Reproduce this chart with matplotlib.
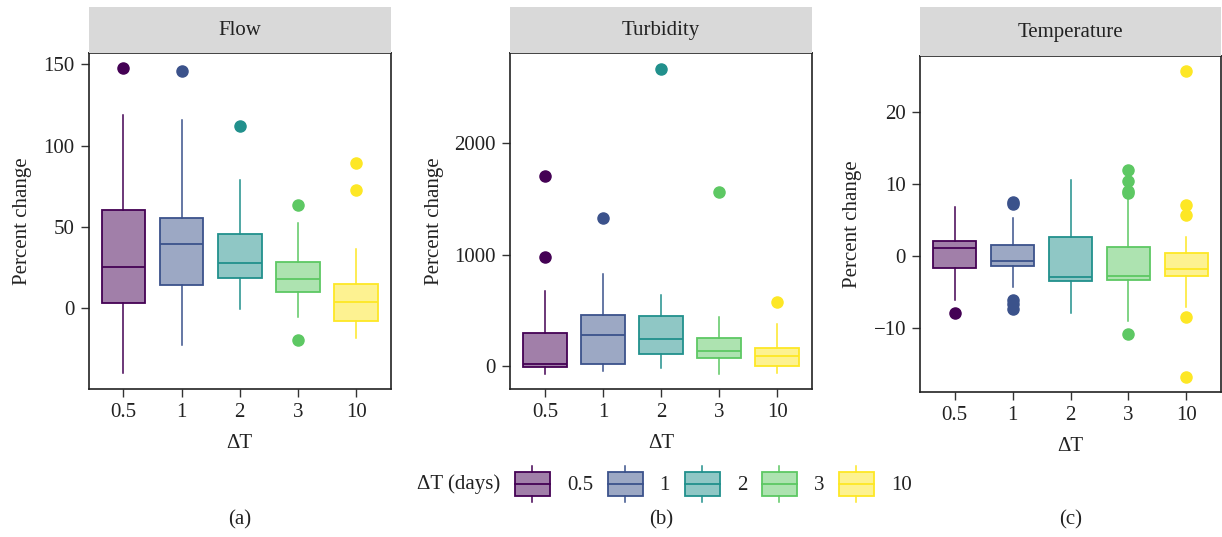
import numpy as np
import matplotlib
matplotlib.use("Agg")
import matplotlib.pyplot as plt
from matplotlib.patches import Patch, Rectangle
from matplotlib.lines import Line2D
from matplotlib.legend_handler import HandlerBase

plt.rcParams["font.family"] = ["Liberation Serif", "DejaVu Serif"]
plt.rcParams["font.size"] = 15

# ── Data ─────────────────────────────────────────────────────
dt_labels = ["0.5", "1", "2", "3", "10"]
colors = ["#440154", "#3B528B", "#21908C", "#5DC863", "#FDE725"]

# Flow: whislo, q1, med, q3, whishi, fliers
flow_whislo = [-40, -22.8, -1, -5.5, -18.5]
flow_q1 = [3, 14.2, 18.5, 10, -8]
flow_med = [25.3, 39.5, 27.8, 18, 3.7]
flow_q3 = [60, 55.5, 45.7, 28.4, 14.8]
flow_whishi = [119, 116, 79, 52.5, 36.4]
flow_fliers = [[147.5], [146], [112], [63.6, -19.7], [89.5, 72.8]]

turb_whislo = [-68, -45, -18, -68, -63]
turb_q1 = [-12, 15, 105, 69, 3]
turb_med = [21, 281, 242, 135, 87]
turb_q3 = [299, 457, 448, 251, 159]
turb_whishi = [670, 822, 640, 440, 380]
turb_fliers = [[1701, 978], [1327], [2664], [1561], [574]]

temp_whislo = [-6.1, -4.26, -7.96, -8.98, -7.13]
temp_q1 = [-1.71, -1.34, -3.47, -3.33, -2.78]
temp_med = [1.06, -0.69, -2.96, -2.73, -1.85]
temp_q3 = [2.13, 1.48, 2.69, 1.3, 0.46]
temp_whishi = [6.76, 5.23, 10.56, 8.0, 2.6]
temp_fliers = [[-7.96], [7.55, 7.2, -6.1, -6.6, -7.4], [],
               [11.94, 10.46, 9.07, 8.8, -10.83],
               [25.65, 7.08, 5.69, -8.52, -16.76]]

panels = [
    ("Flow", flow_whislo, flow_q1, flow_med, flow_q3, flow_whishi, flow_fliers,
     (-50, 157), [0, 50, 100, 150], "(a)"),
    ("Turbidity", turb_whislo, turb_q1, turb_med, turb_q3, turb_whishi, turb_fliers,
     (-206, 2807), [0, 1000, 2000], "(b)"),
    ("Temperature", temp_whislo, temp_q1, temp_med, temp_q3, temp_whishi, temp_fliers,
     (-18.9, 27.8), [-10, 0, 10, 20], "(c)"),
]

# pixel boxes: left, right, axes top, axes bottom, strip top
W, H = 1222, 537
boxes = [(88.5, 391, 53, 389, 7), (510, 812, 53, 389, 7), (920, 1221, 56, 392, 7)]
TXT = "#222222"

fig = plt.figure(figsize=(W / 100, H / 100), dpi=100)


def fx(px):
    return px / W


def fy(py):
    return 1 - py / H


for (title, lo, q1, med, q3, hi, fl, ylim, yticks, tag), (l, r, t, b, st) in zip(panels, boxes):
    ax = fig.add_axes([fx(l), fy(b), fx(r - l), (b - t) / H])
    stats = []
    for i in range(len(dt_labels)):
        stats.append(dict(whislo=lo[i], q1=q1[i], med=med[i], q3=q3[i],
                          whishi=hi[i], fliers=fl[i], label=dt_labels[i]))
    bp = ax.bxp(stats, positions=range(len(dt_labels)), widths=0.75,
                patch_artist=True, showcaps=False)
    for i, c in enumerate(colors):
        bp["boxes"][i].set(facecolor=matplotlib.colors.to_rgba(c, 0.5),
                           edgecolor=c, linewidth=1.3)
        bp["medians"][i].set(color=c, linewidth=1.3)
        bp["whiskers"][2 * i].set(color=c, linewidth=1.1)
        bp["whiskers"][2 * i + 1].set(color=c, linewidth=1.1)
        bp["fliers"][i].set(marker="o", markerfacecolor=c, markeredgecolor=c,
                            markersize=8)
    ax.set_xlim(-0.6, len(dt_labels) - 0.4)
    ax.set_ylim(*ylim)
    ax.set_yticks(yticks)
    ax.set_xticks(range(len(dt_labels)))
    ax.set_xticklabels(dt_labels)
    ax.tick_params(direction="out", length=5.5, width=1, color="#333333",
                   labelsize=15, labelcolor=TXT, pad=4.5)
    for s in ax.spines.values():
        s.set_linewidth(1.2)
        s.set_color(TXT)
    ax.set_ylabel("Percent change", fontsize=15, color=TXT, labelpad=8)
    ax.set_xlabel("ΔT", fontsize=15, color=TXT, labelpad=9)

    # strip header
    sax = fig.add_axes([fx(l), fy(t), fx(r - l), (t - st) / H])
    sax.set_facecolor("#D9D9D9")
    sax.set_xticks([])
    sax.set_yticks([])
    for s in sax.spines.values():
        s.set_visible(False)
    sax.text(0.5, 0.48, title, ha="center", va="center", fontsize=15,
             color=TXT, transform=sax.transAxes)

    fig.text(fx((l + r) / 2), fy(520), tag, ha="center", va="center",
             fontsize=15, color=TXT)


class BoxHandler(HandlerBase):
    def create_artists(self, legend, orig_handle, xdescent, ydescent,
                       width, height, fontsize, trans):
        ec = orig_handle.get_edgecolor()
        fc = orig_handle.get_facecolor()
        x0, y0 = -xdescent, -ydescent
        bh = height * 0.65
        by = y0 + (height - bh) / 2
        rect = Rectangle((x0, by), width, bh, facecolor=fc, edgecolor=ec,
                         linewidth=1.3, transform=trans)
        xm = x0 + width / 2
        med = Line2D([x0, x0 + width], [y0 + height / 2] * 2, color=ec,
                     linewidth=1.3, transform=trans)
        w1 = Line2D([xm, xm], [y0, by], color=ec, linewidth=1.1, transform=trans)
        w2 = Line2D([xm, xm], [by + bh, y0 + height], color=ec, linewidth=1.1,
                    transform=trans)
        return [rect, med, w1, w2]


handles = [Patch(facecolor=matplotlib.colors.to_rgba(c, 0.5), edgecolor=c)
           for c in colors]
fig.text(fx(417), fy(484), "ΔT (days)", ha="left", va="center", fontsize=15,
         color=TXT)
fig.legend(handles, dt_labels, handler_map={Patch: BoxHandler()},
           loc="center left", bbox_to_anchor=(fx(496), fy(484)), ncol=5,
           frameon=False, handlelength=1.68, handleheight=2.35,
           handletextpad=0.82, columnspacing=0.7, fontsize=15,
           labelcolor=TXT)

fig.savefig("out.png", dpi=100)
